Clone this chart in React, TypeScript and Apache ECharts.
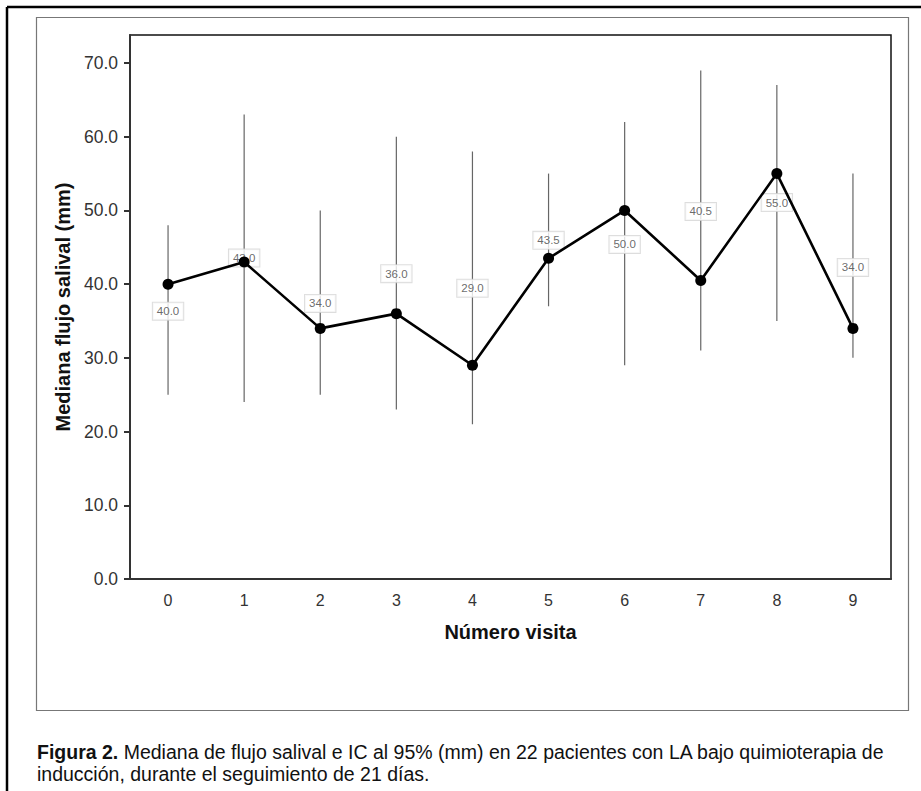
import React, { useEffect, useRef } from "react";
import * as echarts from "echarts";

// Visit numbers on the x axis
const visits = ["0", "1", "2", "3", "4", "5", "6", "7", "8", "9"];
// Median salivary flow (mm) per visit
const medianFlow = [40.0, 43.0, 34.0, 36.0, 29.0, 43.5, 50.0, 40.5, 55.0, 34.0];
// 95% confidence interval bounds (mm)
const ciLower = [25, 24, 25, 23, 21, 37, 29, 31, 35, 30];
const ciUpper = [48, 63, 50, 60, 58, 55, 62, 69, 67, 55];
// Y axis tick values
const yTicks = [0, 10, 20, 30, 40, 50, 60, 70];
// Vertical shift (px) of each value label relative to its point
const labelShift = [27, -4, -25, -40, -77, -18, 34, -69, 29, -61];

const FONT = "'Liberation Sans', Arial, sans-serif";

export default function App() {
  const ref = useRef<HTMLDivElement>(null);

  useEffect(() => {
    if (!ref.current) return;
    const chart = echarts.init(ref.current, undefined, { renderer: "svg" });

    const option: echarts.EChartsOption = {
      animation: false,
      backgroundColor: "#fff",
      grid: {
        left: 130,
        top: 35,
        right: 30,
        bottom: 212,
        show: true,
        borderColor: "#111",
        borderWidth: 1.5,
        backgroundColor: "transparent",
      },
      xAxis: {
        type: "category",
        data: visits,
        boundaryGap: true,
        name: "Número visita",
        nameLocation: "middle",
        nameGap: 43,
        nameTextStyle: { fontFamily: FONT, fontWeight: "bold", fontSize: 20, color: "#111" },
        axisLine: { lineStyle: { color: "#333", width: 2 } },
        axisTick: { alignWithLabel: true, length: 6, lineStyle: { color: "#333", width: 2 } },
        axisLabel: { fontFamily: FONT, fontSize: 16, color: "#333", margin: 13 },
        splitLine: { show: false },
      },
      yAxis: {
        type: "value",
        min: 0,
        max: 73.8,
        interval: 10,
        name: "Mediana flujo salival (mm)",
        nameLocation: "middle",
        nameGap: 44,
        nameTextStyle: { fontFamily: FONT, fontWeight: "bold", fontSize: 20, color: "#111" },
        axisLine: { show: true, lineStyle: { color: "#333", width: 2 } },
        axisTick: { show: true, length: 6, customValues: yTicks, lineStyle: { color: "#333", width: 2 } },
        axisLabel: {
          fontFamily: FONT,
          fontSize: 17.5,
          color: "#333",
          margin: 12,
          customValues: yTicks,
          formatter: (v: number) => v.toFixed(1),
        },
        splitLine: { show: false },
      },
      series: [
        {
          // 95% CI whiskers
          type: "custom",
          z: 1,
          data: visits.map((_, i) => [i, ciLower[i], ciUpper[i]]),
          renderItem: (_params: any, api: any) => {
            const lo = api.coord([api.value(0), api.value(1)]);
            const hi = api.coord([api.value(0), api.value(2)]);
            return {
              type: "line",
              shape: { x1: lo[0], y1: lo[1], x2: hi[0], y2: hi[1] },
              style: { stroke: "#666", lineWidth: 1.2 },
            };
          },
          silent: true,
        },
        {
          // boxed value labels
          type: "scatter",
          z: 3,
          symbolSize: 0,
          data: medianFlow.map((v, i) => ({
            value: [i, v],
            label: { offset: [0, labelShift[i]] },
          })),
          label: {
            show: true,
            position: "inside",
            formatter: (p: any) => Number(p.value[1]).toFixed(1),
            fontFamily: FONT,
            fontSize: 11.5,
            color: "#444",
            backgroundColor: "#fff",
            borderColor: "#d4d4d4",
            borderWidth: 1,
            padding: [3, 4, 2, 4],
          },
          silent: true,
        },
        {
          // median line with markers
          type: "line",
          z: 5,
          data: medianFlow,
          symbol: "circle",
          symbolSize: 11,
          itemStyle: { color: "#000" },
          lineStyle: { color: "#000", width: 2.6 },
          silent: true,
        },
      ],
      graphic: [
        // outer page frame
        { type: "line", shape: { x1: 7, y1: 7, x2: 930, y2: 7 }, style: { stroke: "#000", lineWidth: 2.5 } },
        { type: "line", shape: { x1: 7, y1: 7, x2: 7, y2: 800 }, style: { stroke: "#000", lineWidth: 2.5 } },
        // chart frame
        {
          type: "rect",
          shape: { x: 36.5, y: 17.5, width: 872, height: 693 },
          style: { fill: "none", stroke: "#777", lineWidth: 1.2 },
          z: -1,
        },
        // figure caption
        {
          type: "text",
          x: 37,
          y: 752,
          style: {
            text: "{b|Figura 2.} Mediana de flujo salival e IC al 95% (mm) en 22 pacientes con LA bajo quimioterapia de",
            font: `19.5px ${FONT}`,
            fill: "#111",
            verticalAlign: "middle",
            rich: { b: { fontWeight: "bold", fontSize: 19.5, fontFamily: FONT, fill: "#111" } } as any,
          },
        },
        {
          type: "text",
          x: 37,
          y: 774,
          style: {
            text: "inducción, durante el seguimiento de 21 días.",
            font: `19.5px ${FONT}`,
            fill: "#111",
            verticalAlign: "middle",
          },
        },
      ],
    };

    chart.setOption(option);
    return () => chart.dispose();
  }, []);

  return (
    <div
      ref={ref}
      style={{ position: "fixed", left: 0, top: 0, width: 921, height: 791 }}
    />
  );
}
